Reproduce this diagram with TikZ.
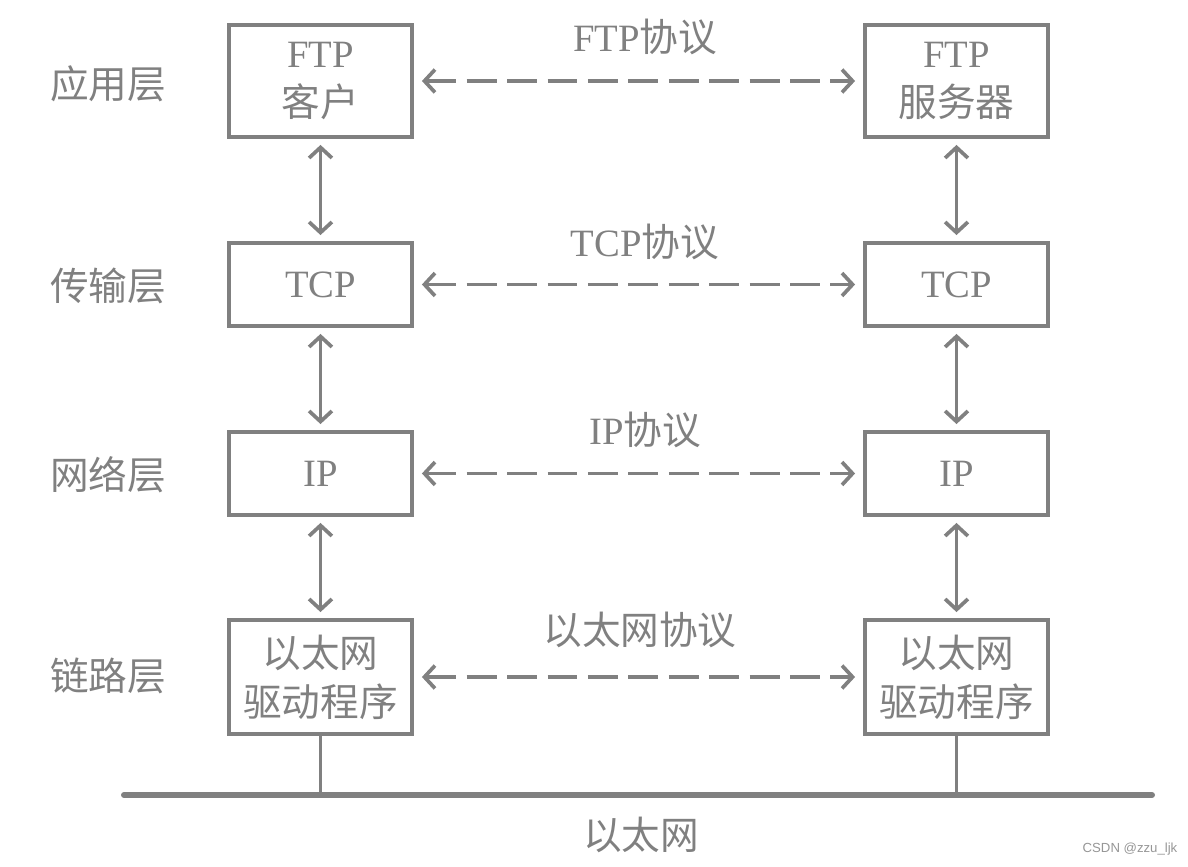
\documentclass[tikz,border=0pt]{standalone}
\usepackage{fontspec}
\setmainfont{Liberation Serif}
\newfontfamily\cjk{Noto Sans CJK SC}
\newfontfamily\marksans{Liberation Sans}
\usepackage{xcolor}
\usetikzlibrary{arrows.meta}
\definecolor{lineGray}{RGB}{128,128,128}
\definecolor{markGray}{RGB}{150,150,150}
\newcommand{\zh}[1]{{\cjk #1}}

\begin{document}
\begin{tikzpicture}[
    font=\fontsize{22}{28}\selectfont, text=lineGray,
    box/.style={draw=lineGray, line width=2.2pt, minimum width=3.66cm,
        inner sep=0pt, align=center},
    updown/.style={lineGray, line width=2.1pt,
        {Straight Barb[length=6pt,width=13pt]}-{Straight Barb[length=6pt,width=13pt]},
        shorten <=0.12cm, shorten >=0.12cm},
    peer/.style={updown, dash pattern=on 17pt off 6pt,
        shorten <=0.16cm, shorten >=0.16cm}]
    \useasboundingbox (0,0) rectangle (23.76,17.32);

    % Layer names
    \node (lay-app) at (2.16,15.64) {\zh{应用层}};
    \node (lay-tcp) at (2.16,11.6) {\zh{传输层}};
    \node (lay-ip) at (2.16,7.82) {\zh{网络层}};
    \node (lay-link) at (2.16,3.8) {\zh{链路层}};

    % Client side
    \begin{scope}
        \node[box, minimum height=2.24cm] (cli-app) at (6.41,15.70) {FTP\\\zh{客户}};
        \node[box, minimum height=1.66cm] (cli-tcp) at (6.41,11.63) {TCP};
        \node[box, minimum height=1.66cm] (cli-ip) at (6.41,7.85) {IP};
        \node[box, minimum height=2.28cm] (cli-link) at (6.41,3.78) {\zh{以太网}\\\zh{驱动程序}};
    \end{scope}

    % Server side
    \begin{scope}
        \node[box, minimum height=2.24cm] (srv-app) at (19.13,15.70) {FTP\\\zh{服务器}};
        \node[box, minimum height=1.66cm] (srv-tcp) at (19.13,11.63) {TCP};
        \node[box, minimum height=1.66cm] (srv-ip) at (19.13,7.85) {IP};
        \node[box, minimum height=2.28cm] (srv-link) at (19.13,3.78) {\zh{以太网}\\\zh{驱动程序}};
    \end{scope}

    % Up and down the stacks
    \foreach \side in {cli, srv} {
        \draw[updown] (\side-app) -- (\side-tcp);
        \draw[updown] (\side-tcp) -- (\side-ip);
        \draw[updown] (\side-ip) -- (\side-link);
    }

    % Peer protocols
    \foreach \layer in {app, tcp, ip, link} {
        \draw[peer] (cli-\layer) -- (srv-\layer);
    }
    \node (pro-app) at (12.9,16.58) {FTP\zh{协议}};
    \node (pro-tcp) at (12.9,12.48) {TCP\zh{协议}};
    \node (pro-ip) at (12.9,8.72) {IP\zh{协议}};
    \node (pro-link) at (12.8,4.72) {\zh{以太网协议}};

    % Ethernet bus
    \coordinate (bus-l) at (2.48,1.42);
    \coordinate (bus-r) at (23.04,1.42);
    \draw[lineGray, line width=3.4pt, line cap=round] (bus-l) -- (bus-r);
    \draw[lineGray, line width=1.9pt] (cli-link.south) -- (cli-link.south |- bus-l);
    \draw[lineGray, line width=1.9pt] (srv-link.south) -- (srv-link.south |- bus-l);
    \node (bus-name) at (12.82,0.62) {\zh{以太网}};

    \node[text=markGray, font=\marksans\fontsize{7.5}{9}\selectfont] (mark) at (22.6,0.34) {CSDN @zzu\_ljk};
\end{tikzpicture}
\end{document}
